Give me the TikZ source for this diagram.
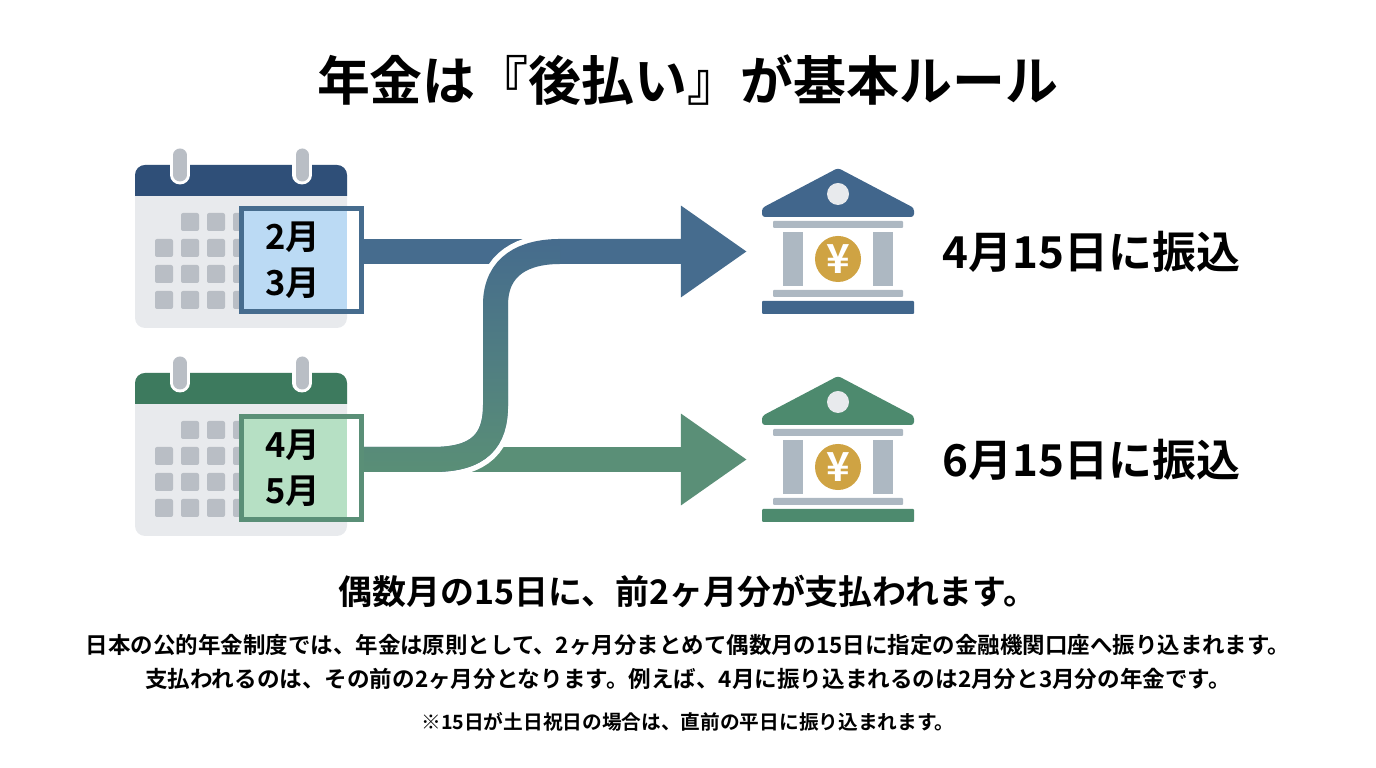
\documentclass[tikz,border=0pt]{standalone}
\usepackage{fontspec}
\setmainfont{Noto Sans CJK JP}[BoldFont={Noto Sans CJK JP Bold}]
\usetikzlibrary{arrows.meta,fadings,positioning}
\definecolor{headblue}{HTML}{2F4F78}
\definecolor{headgreen}{HTML}{3D7A5E}
\definecolor{lineblue}{HTML}{466C8E}
\definecolor{linegreen}{HTML}{5A8F77}
\definecolor{bankblue}{HTML}{41668C}
\definecolor{bankgreen}{HTML}{4D8A6E}
\definecolor{fillblue}{HTML}{BBDAF4}
\definecolor{fillgreen}{HTML}{B6E0C4}
\definecolor{calbody}{HTML}{E8EAED}
\definecolor{calcell}{HTML}{B9BEC5}
\definecolor{pillar}{HTML}{ADB8C2}
\definecolor{coin}{HTML}{CFA343}
\tikzfading[name=fadeup, top color=transparent!100, bottom color=transparent!0]
\tikzset{monthbox/.style={draw=#1, line width=.05cm, rectangle, fill=white,
    minimum width=1.2cm, minimum height=1.03cm, inner sep=0}}
\tikzset{label/.style={inner sep=0, text=black, font=\bfseries\fontsize{#1}{#1}\selectfont}}
\tikzset{stem/.style={line width=.25cm}}
\tikzset{headtip/.style={-{Triangle[length=.66cm,width=.87cm]}}}
\tikzset{bendpath/.style={insert path={(box2.east |- tip2) -- (433,459.5)
    .. controls (480,459.5) and (495.5,440) .. (495.5,405) -- (495.5,305)
    .. controls (495.5,265) and (525,251.5) .. (560,251.5)}}}
\begin{document}
\begin{tikzpicture}[x=.01cm,y=-.01cm]
  \useasboundingbox (0,0) rectangle (1376,768);
  \coordinate (tip1) at (747,251.5);
  \coordinate (tip2) at (747,459.5);
  \coordinate (cut1) at (525,251.5);
  \coordinate (cut2) at (460,459.5);
  \node[label=15.05] (title) at (687.5,80) {年金は『後払い』が基本ルール};
  \foreach \i/\yy/\hd/\bd/\fl/\bk/\ma/\mb/\day in {1/0/headblue/lineblue/fillblue/bankblue/2/3/4,
                                         2/208/headgreen/linegreen/fillgreen/bankgreen/4/5/6} {
    \begin{scope}[yshift=-\yy*.01cm]
      \fill[calbody, rounded corners=.1cm] (135,165) rectangle (347,328);
      \fill[\hd] (135,196) [rounded corners=.1cm] -- (135,165) -- (347,165)
        [sharp corners] -- (347,196) -- cycle;
      \foreach \x in {180,302} {
        \draw[white, line width=.19cm, line cap=round] (\x,155) -- (\x,175);
        \draw[calcell, line width=.13cm, line cap=round] (\x,155) -- (\x,175);
      }
      \foreach \c in {0,...,3}
      \foreach \r in {0,...,3} {
        \ifnum\numexpr\c+\r\relax>0
          \fill[calcell, rounded corners=.02cm] (155+\c*26,213+\r*26) rectangle +(18,18);
        \fi
      }
      \node[monthbox=\bd, path picture={\fill[\fl] (path picture bounding box.north west)
          rectangle ([xshift=-.145cm]path picture bounding box.south east);}]
        (box\i) at (301.5,260) {};
      \node[label=9.6, align=center, font=\bfseries\fontsize{9.8}{13.1}\selectfont]
        (month\i) at (293,260.5) {\ma 月\\\mb 月};
      \fill[\bk, rounded corners=.03cm] (838,168) -- (914,208) -- (914,217)
        -- (762,217) -- (762,208) -- cycle;
      \fill[calbody] (838,194) circle (11);
      \fill[pillar, rounded corners=.01cm] (773,221) rectangle (903,228);
      \fill[pillar] (783,232) rectangle (803,286);
      \fill[pillar] (873,232) rectangle (893,286);
      \fill[pillar, rounded corners=.01cm] (773,290) rectangle (903,297);
      \fill[\bk, rounded corners=.01cm] (762,301) rectangle (914,314);
      \node[circle, fill=coin, minimum size=.46cm, inner sep=0, text=white,
        font=\bfseries\fontsize{11.4}{11.4}\selectfont] (coin\i) at (838,259) {¥};
      \node[label=12.5, anchor=west] (pay\i) at (942,252) {\day 月15日に振込};
    \end{scope}
  }
  \draw[stem, lineblue] (box1.east |- tip1) -- (cut1);
  \draw[stem, linegreen, headtip] (cut2) -- (tip2);
  \draw[bendpath, white, line width=.36cm];
  \draw[bendpath, stem, lineblue, headtip] -- (tip1);
  \draw[bendpath, stem, linegreen, path fading=fadeup];
  \node[label=9.65] (rule) at (688,591) {偶数月の15日に、前2ヶ月分が支払われます。};
  \node[label=6.39] (line1) at (688,645) {日本の公的年金制度では、年金は原則として、2ヶ月分まとめて偶数月の15日に指定の金融機関口座へ振り込まれます。};
  \node[label=6.42] (line2) at (688,679) {支払われるのは、その前の2ヶ月分となります。例えば、4月に振り込まれるのは2月分と3月分の年金です。};
  \node[label=5.6] (note) at (688,722) {※15日が土日祝日の場合は、直前の平日に振り込まれます。};
\end{tikzpicture}
\end{document}
